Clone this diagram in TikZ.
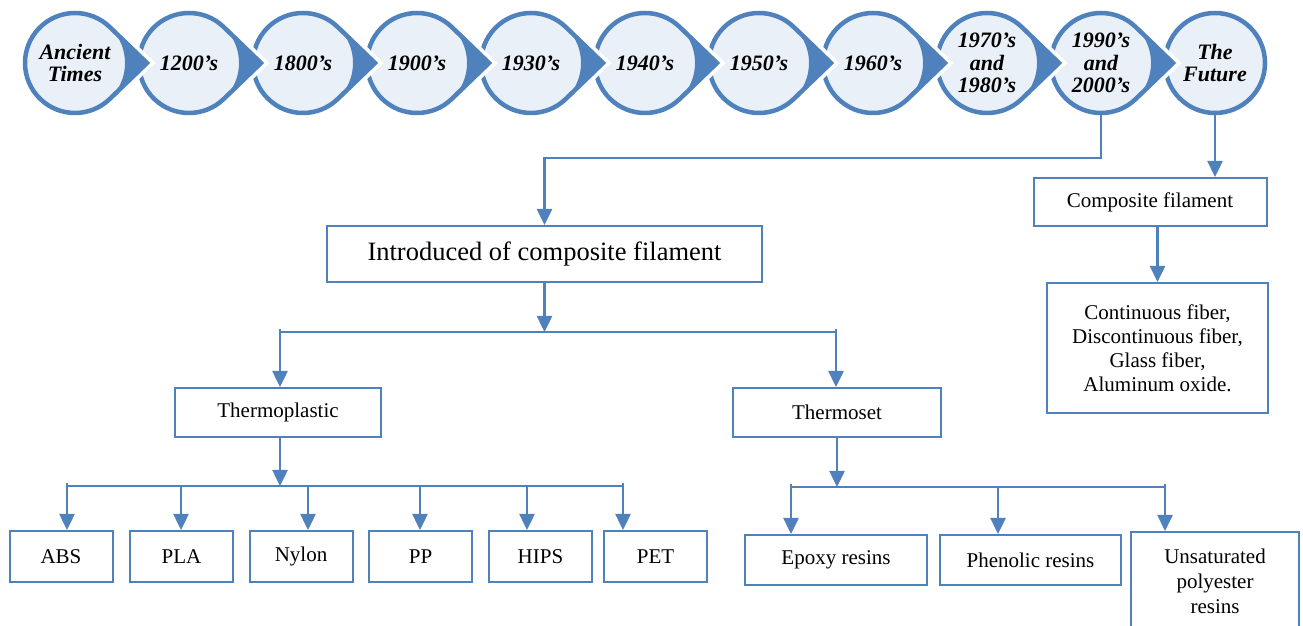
\documentclass[tikz,border=0pt]{standalone}
\usepackage{fontspec}
\setmainfont{Liberation Serif}
\usetikzlibrary{arrows.meta,calc,backgrounds}
\definecolor{lineblue}{RGB}{79,129,189}
\definecolor{erafill}{RGB}{234,240,248}
\tikzset{
  era/.style={circle, inner sep=0pt, outer sep=0pt, minimum size=100pt, align=center,
    font=\fontsize{22}{22.5}\selectfont\bfseries\itshape},
  blk/.style={draw=lineblue, line width=2pt, fill=white, align=center,
    font=\fontsize{21}{24}\selectfont},
  arr/.style={draw=lineblue, line width=2.5pt, -{Triangle[length=16pt,width=15pt]}},
  wire/.style={draw=lineblue, line width=2.5pt},
}

\begin{document}
\begin{tikzpicture}[x=1pt,y=1pt]
\useasboundingbox (0,0) rectangle (1303,626);
\clip (0,0) rectangle (1303,626);

% timeline
\foreach \lbl [count=\i] in {{Ancient\\Times},1200’s,1800’s,1900’s,1930’s,1940’s,1950’s,1960’s,
    {1970’s\\and\\1980’s},{1990’s\\and\\2000’s},{The\\Future}}
  \node[era] (t\i) at ({75+114*(\i-1)},563) {\lbl};

\begin{scope}[on background layer]
  \filldraw[fill=erafill, draw=lineblue, line width=4.5pt] (t11.center) circle[radius=50pt];
  \foreach \i in {10,9,...,1} {
    \draw[white, line width=12pt, line join=miter]
      ($(t\i.center)+(72,0)$) -- (t\i.46) arc[start angle=46, end angle=314, radius=50pt] -- cycle;
    \filldraw[fill=erafill, draw=lineblue, line width=4.5pt, line join=miter]
      ($(t\i.center)+(72,0)$) -- (t\i.46) arc[start angle=46, end angle=314, radius=50pt] -- cycle;
    \fill[lineblue]
      ($(t\i.center)+(72,0)$) -- (t\i.46) arc[start angle=46, end angle=-46, radius=50pt] -- cycle;
  }
\end{scope}

% boxes
\node[blk, minimum width=233pt, minimum height=48pt] (comp) at (1150,424) {Composite filament};
\node[blk, minimum width=221pt, minimum height=130pt] (fibre) at (1157.5,278)
  {Continuous fiber,\\Discontinuous fiber,\\Glass fiber,\\Aluminum oxide.};
\node[blk, font=\fontsize{26.5}{30}\selectfont, minimum width=435pt, minimum height=56pt]
  (intro) at (544.5,372) {Introduced of composite filament};
\node[blk, minimum width=206pt, minimum height=49pt] (tplast) at (278,213.5) {Thermoplastic};
\node[blk, minimum width=208pt, minimum height=49pt] (tset) at (837,213.5) {Thermoset};

\foreach \nm/\x/\txt in {abs/61/ABS,pla/181.5/PLA,nylon/301/Nylon,pp/420.5/PP,hips/540.5/HIPS,pet/655.5/PET}
  \node[blk, minimum width=103pt, minimum height=51pt] (\nm) at (\x,69.5) {\txt};

\node[blk, minimum width=182pt, minimum height=50pt] (epoxy) at (836,66) {Epoxy resins};
\node[blk, minimum width=181pt, minimum height=50pt] (phenolic) at (1030.5,66) {Phenolic resins};
\node[blk, font=\fontsize{21}{25}\selectfont, minimum width=168pt, minimum height=98pt]
  (unsat) at (1215,45) {Unsaturated\\polyester\\resins};

% connectors
\coordinate (j1) at (544.5,468);
\draw[arr] (t10.south) |- (j1) -- (intro.north);
\draw[arr] (t11.south) -- (t11.south |- comp.north);
\draw[arr] (fibre.north |- comp.south) -- (fibre.north);

\coordinate (b1) at (544.5,294);
\coordinate (b1L) at (280,294);
\coordinate (b1R) at (836,294);
\draw[arr] (intro.south) -- (b1);
\draw[wire] (b1L) -- (b1R);
\draw[arr] ([yshift=3pt]b1L) -- (b1L |- tplast.north);
\draw[arr] ([yshift=3pt]b1R) -- (b1R |- tset.north);

\coordinate (b2) at (280,140);
\draw[arr] (tplast.south -| b2) -- (b2);
\foreach \x/\nm in {67/abs,181/pla,308/nylon,420/pp,527/hips,623/pet} {
  \coordinate (d\nm) at (\x,140);
  \draw[arr] (d\nm) -- (d\nm |- \nm.north);
}
\draw[wire] ([yshift=3pt]dabs) |- (dpet) -- ++(0,3);

\coordinate (b3) at (837,139);
\draw[arr] (tset.south) -- (b3);
\foreach \x/\nm in {791/epoxy,998/phenolic,1165/unsat} {
  \coordinate (d\nm) at (\x,139);
  \draw[arr] (d\nm) -- (d\nm |- \nm.north);
}
\draw[wire] ([yshift=3pt]depoxy) |- (dunsat) -- ++(0,3);
\end{tikzpicture}
\end{document}
